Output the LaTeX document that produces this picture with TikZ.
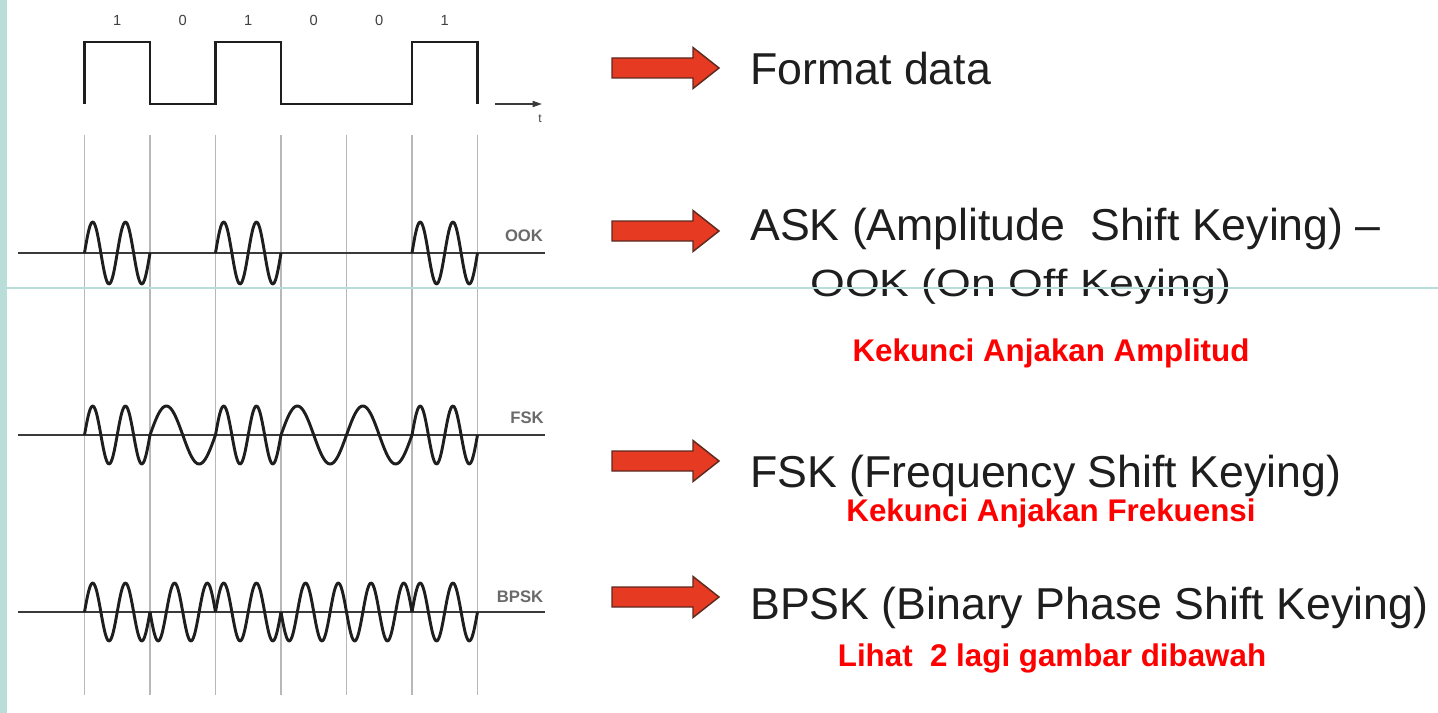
\documentclass[tikz,border=0pt]{standalone}
\usepackage{fontspec}
\setmainfont{Liberation Sans}
\usetikzlibrary{arrows.meta}
\definecolor{teal1}{HTML}{B9DDD8}
\definecolor{arrred}{HTML}{E63A22}
\definecolor{arredge}{HTML}{5E2A20}
\definecolor{ink}{HTML}{1E1E1E}
\definecolor{gridc}{HTML}{B8B8B8}
\definecolor{lblc}{HTML}{6A6A6A}
\definecolor{axisc}{HTML}{3A3A3A}
\begin{document}
\begin{tikzpicture}[x=0.75pt,y=-0.75pt,
  gridline/.style={gridc,line width=1pt},
  wave/.style={ink,line width=2.2pt,line join=round},
  baseaxis/.style={axisc,line width=1.6pt},
  sqwave/.style={ink,line width=2.2pt,line join=miter},
  redarrow/.style={fill=arrred,draw=arredge,line width=1.1pt,line join=miter},
  bigtext/.style={inner sep=0pt,anchor=base west,text=ink,font=\fontsize{33.5}{40}\selectfont},
  redtext/.style={inner sep=0pt,anchor=base,text=red,font=\fontsize{23.5}{28}\selectfont\bfseries},
  wavelbl/.style={inner sep=0pt,text=lblc,font=\fontsize{12.5}{14}\selectfont\bfseries},
  bitlbl/.style={inner sep=0pt,text=black!75,font=\fontsize{11}{12}\selectfont}]
\useasboundingbox (0,0) rectangle (1438,713);
\fill[white] (0,0) rectangle (1438,713);
\fill[teal1] (0,0) rectangle (7,713);
% grid lines
\foreach \i in {0,...,6}
  \draw[gridline] ({84.5+65.5*\i},135) -- ({84.5+65.5*\i},695);
% data square wave
\draw[sqwave] (84.5,104) -- (84.5,42) -- (150,42) -- (150,104) -- (215.5,104) -- (215.5,42)
  -- (281,42) -- (281,104) -- (412,104) -- (412,42) -- (477.5,42) -- (477.5,104);
\foreach \b/\v in {0/1,1/0,2/1,3/0,4/0,5/1}
  \node[bitlbl] (bit\b) at ({117.25+65.5*\b},20) {\v};
\coordinate (tstart) at (495,104);
\coordinate (tend) at (542,104);
\draw[axisc,line width=1.2pt,-{Triangle[length=7pt,width=4.5pt]}] (tstart) -- (tend);
\node[bitlbl,font=\fontsize{9}{10}\selectfont] (tlbl) at (540,119) {t};
% baselines
\draw[baseaxis] (18,253) -- (545,253);
\draw[baseaxis] (18,435) -- (545,435);
\draw[baseaxis] (18,612) -- (545,612);
% OOK
\foreach \b in {0,2,5}{
  \pgfmathsetmacro{\xs}{84.5+65.5*\b}
  \pgfmathsetmacro{\xe}{\xs+65.5}
  \draw[wave] plot[domain=\xs:\xe,samples=60,smooth] (\x,{253-31*sin(10.9924*(\x-\xs))});
}
% FSK
\foreach \b/\cy in {0/2,1/1,2/2,3/1,4/1,5/2}{
  \pgfmathsetmacro{\xs}{84.5+65.5*\b}
  \pgfmathsetmacro{\xe}{\xs+65.5}
  \pgfmathsetmacro{\kf}{5.4962*\cy}
  \draw[wave] plot[domain=\xs:\xe,samples=60,smooth] (\x,{435-29*sin(\kf*(\x-\xs))});
}
% BPSK
\foreach \b/\sg in {0/1,1/-1,2/1,3/-1,4/-1,5/1}{
  \pgfmathsetmacro{\xs}{84.5+65.5*\b}
  \pgfmathsetmacro{\xe}{\xs+65.5}
  \draw[wave] plot[domain=\xs:\xe,samples=60,smooth] (\x,{612-29*\sg*sin(10.9924*(\x-\xs))});
}
\node[wavelbl] (ookl) at (524,236) {OOK};
\node[wavelbl] (fskl) at (527,418) {FSK};
\node[wavelbl] (bpskl) at (520,597) {BPSK};
% red arrows
\foreach \c in {68,231,461,597}
  \draw[redarrow] (612,\c-10) -- (693,\c-10) -- (693,\c-20.5) -- (719,\c) -- (693,\c+20.5)
    -- (693,\c+10) -- (612,\c+10) -- cycle;
% texts
\node[bigtext] (fmt) at (750,85) {Format data};
\node[bigtext] (ask) at (750,240) {ASK (Amplitude\ \ Shift Keying) –};
\node[bigtext] (ook) at (810,296) {\scalebox{1}[0.85]{OOK (On Off Keying)}};
\node[bigtext] (fsk) at (750,487) {FSK (Frequency Shift Keying)};
\node[bigtext] (bpsk) at (750,619) {BPSK (Binary Phase Shift Keying)};
\node[redtext] (r1) at (1051,361) {Kekunci Anjakan Amplitud};
\node[redtext] (r2) at (1051,521) {Kekunci Anjakan Frekuensi};
\node[redtext] (r3) at (1052,666) {Lihat\ \ 2 lagi gambar dibawah};
% thin teal line across
\draw[teal1,line width=0.9pt] (7,288) -- (1438,288);
\end{tikzpicture}
\end{document}
